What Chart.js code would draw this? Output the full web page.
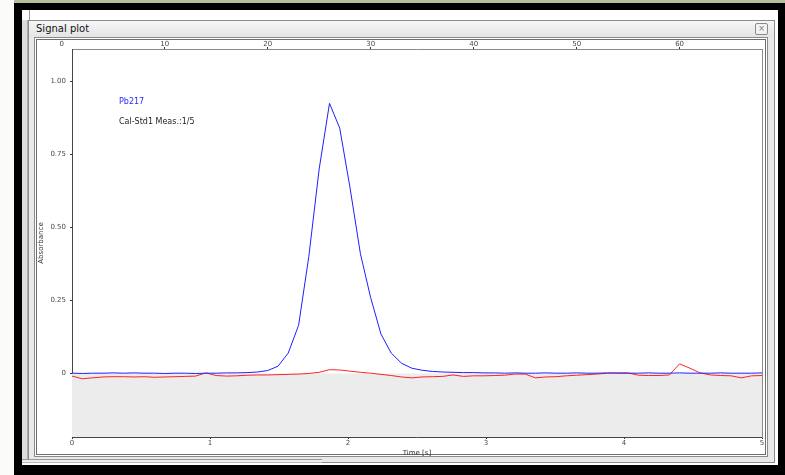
<!DOCTYPE html>
<html>
<head>
<meta charset="utf-8">
<script src="https://cdn.jsdelivr.net/npm/chart.js@4/dist/chart.umd.min.js"></script>
<style>
  html,body{margin:0;padding:0;}
  body{width:785px;height:475px;position:relative;overflow:hidden;background:#fbfcfa;font-family:"DejaVu Sans",sans-serif;}
  .abs{position:absolute;box-sizing:border-box;}
  #topstrip{left:14px;top:0;width:771px;height:3px;background:#b3bfa0;}
  #blackframe{left:14px;top:3px;width:771px;height:472px;background:#000;}
  #desk{left:22px;top:10px;width:756px;height:455px;background:#fff;}
  #deskleft{left:22px;top:20px;width:6px;height:440px;background:#dcdcdc;border-right:1px solid #aaa;}
  #deskline{left:29px;top:10px;width:1px;height:10px;background:#9a9a9a;}
  #win{left:28px;top:20px;width:747px;height:443px;border:1px solid #8c8c8c;background:#e9e9e9;}
  #titlebar{left:29px;top:21px;width:745px;height:16px;background:linear-gradient(#f6f6f6,#e4e4e4);}
  #title{left:36px;top:22px;font-size:10px;color:#111;line-height:14px;}
  #closebtn{left:755px;top:23px;width:13px;height:12px;border:1px solid #8a8a8a;border-radius:2px;background:#f2f2f2;font-size:8px;line-height:10px;text-align:center;color:#777;}
  #panel{left:34px;top:37px;width:734px;height:420px;border:1px solid #8a8a8a;background:#fff;}
  #panelin{left:36px;top:39px;width:730px;height:416px;border:1px solid #6e6e6e;background:#fff;}
  #bottombar{left:22px;top:459px;width:300px;height:4px;border-top:1px solid #999;border-bottom:1px solid #bbb;background:#eee;}
  canvas{position:absolute;left:0;top:0;}
  .note{position:absolute;font-size:8px;line-height:10px;white-space:nowrap;}
</style>
</head>
<body>
<div class="abs" id="topstrip"></div>
<div class="abs" id="blackframe"></div>
<div class="abs" id="desk"></div>
<div class="abs" id="deskleft"></div>
<div class="abs" id="deskline"></div>
<div class="abs" id="win"></div>
<div class="abs" id="titlebar"></div>
<div class="abs" id="title">Signal plot</div>
<div class="abs" id="closebtn">×</div>
<div class="abs" id="panel"></div>
<div class="abs" id="panelin"></div>
<div class="abs" id="bottombar"></div>
<canvas id="c" width="785" height="475"></canvas>
<div class="note" style="left:119px;top:97px;color:#2a2aff;">Pb217</div>
<div class="note" style="left:119px;top:117px;color:#1e1e1e;">Cal-Std1 Meas.:1/5</div>
<script>
// time of each sample, seconds
const timeSeconds = [
  0.000, 0.075, 0.149, 0.224, 0.299, 0.373, 0.448, 0.522, 0.597, 0.672,
  0.746, 0.821, 0.896, 0.970, 1.045, 1.119, 1.194, 1.269, 1.343, 1.418,
  1.493, 1.567, 1.642, 1.716, 1.791, 1.866, 1.940, 2.015, 2.090, 2.164,
  2.239, 2.313, 2.388, 2.463, 2.537, 2.612, 2.687, 2.761, 2.836, 2.910,
  2.985, 3.060, 3.134, 3.209, 3.284, 3.358, 3.433, 3.507, 3.582, 3.657,
  3.731, 3.806, 3.881, 3.955, 4.030, 4.104, 4.179, 4.254, 4.328, 4.403,
  4.478, 4.552, 4.627, 4.701, 4.776, 4.851, 4.925, 5.000
];
// Pb217 absorbance (blue)
const pb217Abs = [
  0.001, 0.000, 0.001, 0.001, 0.002, 0.001, 0.002, 0.001, 0.001, 0.000,
  0.001, 0.001, 0.000, 0.001, 0.001, 0.002, 0.002, 0.003, 0.005, 0.010,
  0.025, 0.070, 0.165, 0.400, 0.700, 0.925, 0.840, 0.635, 0.410, 0.260,
  0.135, 0.070, 0.035, 0.018, 0.011, 0.007, 0.005, 0.004, 0.003, 0.003,
  0.002, 0.002, 0.001, 0.002, 0.001, 0.001, 0.002, 0.001, 0.001, 0.002,
  0.001, 0.001, 0.002, 0.001, 0.001, 0.001, 0.002, 0.001, 0.001, 0.002,
  0.001, 0.001, 0.001, 0.002, 0.001, 0.001, 0.001, 0.002
];
// background absorbance (red)
const backgroundAbs = [
  -0.009, -0.018, -0.015, -0.012, -0.011, -0.011, -0.012, -0.011, -0.013, -0.012,
  -0.011, -0.010, -0.009, 0.002, -0.007, -0.009, -0.008, -0.006, -0.005, -0.005,
  -0.004, -0.003, -0.002, 0.000, 0.004, 0.013, 0.012, 0.008, 0.004, 0.001,
  -0.003, -0.007, -0.012, -0.015, -0.012, -0.011, -0.010, -0.005, -0.010, -0.008,
  -0.008, -0.007, -0.006, -0.002, -0.002, -0.015, -0.012, -0.011, -0.008, -0.006,
  -0.004, -0.002, 0.001, 0.002, 0.002, -0.006, -0.007, -0.007, -0.005, 0.033,
  0.018, 0.002, -0.005, -0.007, -0.008, -0.015, -0.008, -0.007
];
const timeTicks = [0, 1, 2, 3, 4, 5];
const sampleTicks = [0, 10, 20, 30, 40, 50, 60];
const absTicks = [0, 0.25, 0.5, 0.75, 1.0];

const tickFont = {family: "DejaVu Sans", size: 7};
const tickColor = '#4a4a4a';

const zeroFill = {
  id: 'zeroFill',
  beforeDatasetsDraw(chart) {
    const {ctx, chartArea: a, scales} = chart;
    const y0 = scales.y.getPixelForValue(0);
    ctx.save();
    ctx.fillStyle = '#ececec';
    ctx.fillRect(a.left, y0, a.right - a.left, a.bottom - y0);
    ctx.restore();
  }
};

new Chart(document.getElementById('c'), {
  type: 'line',
  data: {
    datasets: [
      {
        label: 'Pb217',
        data: timeSeconds.map((t, i) => ({x: t, y: pb217Abs[i]})),
        borderColor: 'rgb(30,30,255)',
        borderWidth: 1,
        pointRadius: 0,
        tension: 0,
        fill: false,
        xAxisID: 'x', yAxisID: 'y'
      },
      {
        label: 'Background',
        data: timeSeconds.map((t, i) => ({x: t, y: backgroundAbs[i]})),
        borderColor: 'rgb(255,35,35)',
        borderWidth: 1,
        pointRadius: 0,
        tension: 0,
        fill: false,
        xAxisID: 'x', yAxisID: 'y'
      }
    ]
  },
  options: {
    responsive: false,
    animation: false,
    events: [],
    layout: {padding: {left: 30, right: 23, top: 10, bottom: 8}},
    plugins: {legend: {display: false}, tooltip: {enabled: false}},
    scales: {
      x: {
        type: 'linear', position: 'bottom',
        min: 0, max: 5,
        afterBuildTicks: s => { s.ticks = timeTicks.map(v => ({value: v})); },
        afterFit: s => { s.height = 30; },
        ticks: {font: tickFont, color: tickColor, padding: 0, autoSkip: false, maxRotation: 0,
                callback: v => String(v)},
        grid: {drawOnChartArea: false, drawTicks: true, tickLength: 2, color: '#333'},
        border: {display: true, color: '#444', width: 1},
        title: {display: true, text: 'Time [s]', font: tickFont, color: '#333', padding: {top: 0, bottom: 10}}
      },
      x2: {
        type: 'linear', position: 'top',
        min: 1, max: 68,
        afterBuildTicks: s => { s.ticks = sampleTicks.map(v => ({value: v})); },
        afterFit: s => { s.height = 39; },
        ticks: {font: tickFont, color: tickColor, padding: -1, autoSkip: false, maxRotation: 0,
                callback: v => String(v)},
        grid: {drawOnChartArea: false, drawTicks: true, tickLength: 2,
               tickColor: c => (c.tick && c.tick.value === 0) ? 'rgba(0,0,0,0)' : '#333'},
        border: {display: true, color: '#8a8a8a', width: 1}
      },
      y: {
        type: 'linear', position: 'left',
        min: -0.2175, max: 1.111,
        afterBuildTicks: s => { s.ticks = absTicks.map(v => ({value: v})); },
        afterFit: s => { s.width = 42; },
        ticks: {font: tickFont, color: tickColor, padding: 4, autoSkip: false,
                callback: v => v === 0 ? '0' : v.toFixed(2)},
        grid: {drawOnChartArea: false, drawTicks: true, tickLength: 2, color: '#333'},
        border: {display: true, color: '#444', width: 1},
        title: {display: true, text: 'Absorbance', font: tickFont, color: '#333', padding: {top: 7, bottom: 0}}
      },
      y2: {
        type: 'linear', position: 'right',
        min: -0.2175, max: 1.111,
        afterFit: s => { s.width = 0; },
        ticks: {display: false},
        grid: {display: true, drawOnChartArea: false, drawTicks: false},
        border: {display: true, color: '#8a8a8a', width: 1}
      }
    }
  },
  plugins: [zeroFill]
});
</script>
</body>
</html>
